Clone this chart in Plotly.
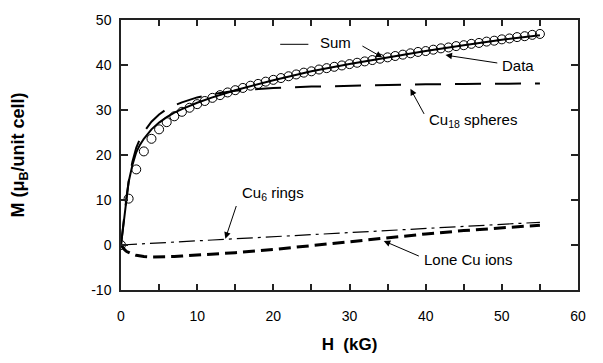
import plotly.graph_objects as go

# ---- data ----
data_H = list(range(0, 56))
data_M = [0.0, 10.3, 16.8, 20.8, 23.6, 25.7, 27.3, 28.6, 29.6, 30.5,
          31.3, 32.0, 32.7, 33.3, 33.9, 34.4, 34.9, 35.4, 35.8, 36.3,
          36.7, 37.1, 37.5, 37.9, 38.3, 38.6, 39.0, 39.3, 39.6, 39.9,
          40.2, 40.5, 40.8, 41.1, 41.4, 41.7, 42.0, 42.3, 42.6, 42.9,
          43.1, 43.4, 43.7, 43.9, 44.2, 44.4, 44.7, 44.9, 45.2, 45.4,
          45.7, 45.9, 46.2, 46.4, 46.7, 46.9]

curve_H = [0, 0.25, 0.5, 0.75, 1, 1.5, 2, 2.5, 3, 4, 5, 6, 7, 8, 10, 12, 15,
           20, 25, 30, 35, 40, 45, 50, 55]
sum_M = [0, 3.5, 7.0, 11.5, 14.0, 17.8, 20.6, 22.3, 23.6, 25.7, 27.2, 28.4,
         29.4, 30.2, 31.6, 32.8, 34.4, 36.6, 38.6, 40.2, 41.7, 43.1, 44.4,
         45.6, 46.6]
cu18_M = [0, 4.0, 7.5, 11.0, 14.0, 18.5, 21.6, 23.6, 25.1, 27.4, 29.0, 30.2,
          31.0, 31.7, 32.8, 33.5, 34.3, 34.9, 35.2, 35.4, 35.6, 35.7, 35.8,
          35.9, 35.9]
cu6_M = [0, 0.02, 0.05, 0.07, 0.1, 0.14, 0.19, 0.23, 0.28, 0.37, 0.46, 0.55,
         0.65, 0.74, 0.93, 1.11, 1.38, 1.85, 2.3, 2.76, 3.2, 3.68, 4.12,
         4.6, 5.05]
lone_M = [0, -0.6, -1.1, -1.45, -1.7, -2.05, -2.3, -2.45, -2.55, -2.65,
          -2.65, -2.6, -2.55, -2.45, -2.25, -2.0, -1.7, -1.0, -0.1, 0.75,
          1.6, 2.45, 3.2, 3.85, 4.4]

x_ticks = [0, 10, 20, 30, 40, 50, 60]
x_minor = [5, 15, 25, 35, 45, 55]
y_ticks = [-10, 0, 10, 20, 30, 40, 50]
X_RANGE = [0, 60]
Y_RANGE = [-10, 50]

FONT = "Arial, Liberation Sans, sans-serif"

fig = go.Figure()
fig.add_trace(go.Scatter(x=curve_H, y=cu6_M, mode="lines",
                         line=dict(color="black", width=1.2, dash="16px,5px,3px,5px")))
fig.add_trace(go.Scatter(x=curve_H, y=lone_M, mode="lines",
                         line=dict(color="black", width=3, dash="12px,6px")))
fig.add_trace(go.Scatter(x=curve_H, y=cu18_M, mode="lines",
                         line=dict(color="black", width=2, dash="26px,14px")))
fig.add_trace(go.Scatter(x=curve_H, y=sum_M, mode="lines",
                         line=dict(color="black", width=2)))
fig.add_trace(go.Scatter(x=data_H, y=data_M, mode="markers",
                         marker=dict(symbol="circle-open", size=9,
                                     color="black", line=dict(width=1))))

# legend-like sample line next to "Sum"
fig.add_shape(type="line", x0=20.9, x1=24.6, y0=44.6, y1=44.6,
              xref="x", yref="y", line=dict(color="black", width=1))

# arrows (tail -> tip)
arrows = [
    (31.5, 44.4, 34.3, 41.7),   # Sum
    (49.6, 40.4, 42.6, 42.2),   # Data
    (39.9, 28.8, 38.0, 34.7),   # Cu18
    (15.2, 9.0, 13.7, 1.4),     # Cu6
    (39.3, -2.6, 34.5, 0.9),    # Lone Cu
]
for ax_, ay_, x_, y_ in arrows:
    fig.add_annotation(x=x_, y=y_, ax=ax_, ay=ay_, xref="x", yref="y",
                       axref="x", ayref="y", text="", showarrow=True,
                       arrowhead=2, arrowsize=1.3, arrowwidth=1,
                       arrowcolor="black", standoff=0, startstandoff=0)

labels = [
    ("Sum", 25.8, 45.0),
    ("Data", 49.8, 39.8),
    ("Cu<sub>18</sub> spheres", 40.2, 27.6),
    ("Cu<sub>6</sub> rings", 15.6, 11.4),
    ("Lone Cu ions", 39.5, -3.2),
]
for t, x_, y_ in labels:
    fig.add_annotation(x=x_, y=y_, xref="x", yref="y", text=t,
                       showarrow=False, xanchor="left", yanchor="middle",
                       font=dict(family=FONT, size=15, color="black"))

fig.update_xaxes(range=X_RANGE, tickvals=x_ticks + x_minor,
                 ticktext=[str(v) for v in x_ticks] + [""] * len(x_minor),
                 ticks="inside", ticklen=6, tickwidth=1.5, tickcolor="#222",
                 showline=True, linecolor="#222", linewidth=1.5, mirror="allticks",
                 showgrid=False, zeroline=False, ticklabelstandoff=12,
                 tickfont=dict(family=FONT, size=14, color="black"),
                 title=dict(text="<b>H  (kG)</b>", standoff=16,
                            font=dict(family=FONT, size=17, color="black")))
fig.update_yaxes(range=Y_RANGE, tickvals=y_ticks,
                 ticktext=[str(v) for v in y_ticks],
                 ticks="inside", ticklen=7, tickwidth=1.5, tickcolor="#222",
                 showline=True, linecolor="#222", linewidth=1.5, mirror="allticks",
                 showgrid=False, zeroline=False, ticklabelstandoff=5,
                 tickfont=dict(family=FONT, size=14, color="black"),
                 title=dict(text="<b>M (μ<sub>B</sub>/unit cell)</b>", standoff=62,
                            font=dict(family=FONT, size=18, color="black")))

fig.update_layout(width=603, height=363, showlegend=False,
                  margin=dict(l=121, r=25, t=15, b=65),
                  plot_bgcolor="white", paper_bgcolor="white")

fig.write_html("out.html")
